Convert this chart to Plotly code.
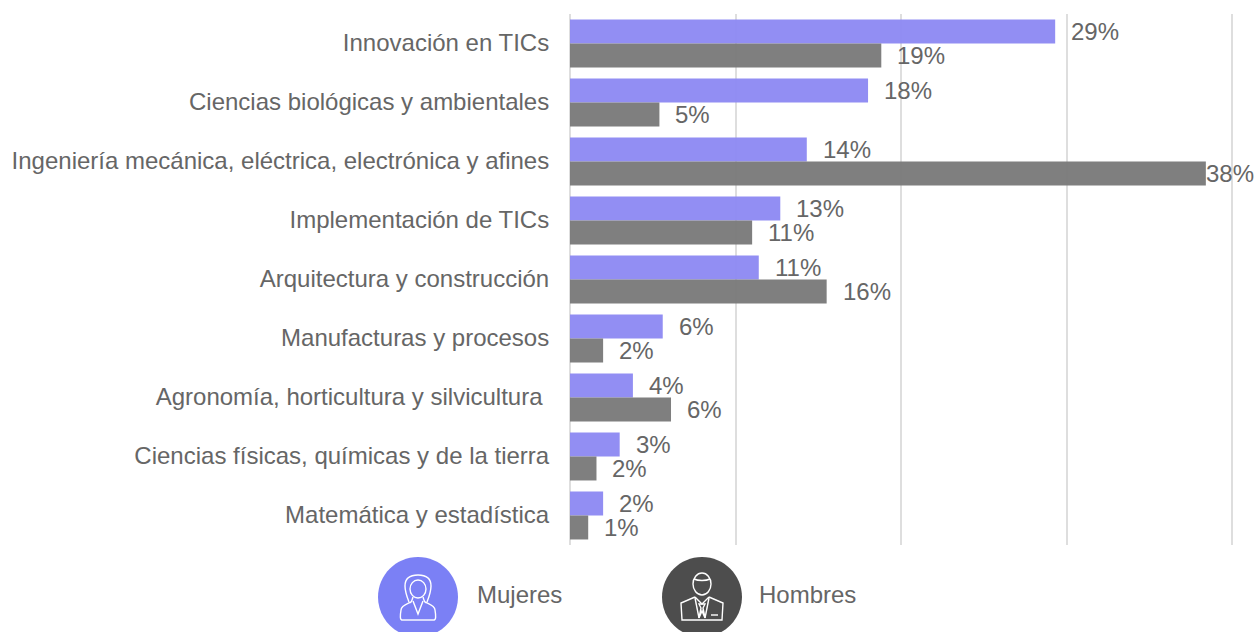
import plotly.graph_objects as go

categories = ["Innovación en TICs", "Ciencias biológicas y ambientales",
              "Ingeniería mecánica, eléctrica, electrónica y afines", "Implementación de TICs",
              "Arquitectura y construcción", "Manufacturas y procesos",
              "Agronomía, horticultura y silvicultura\u00a0", "Ciencias físicas, químicas y de la tierra",
              "Matemática y estadística"]
mujeres = [29.3, 18.0, 14.3, 12.7, 11.4, 5.6, 3.8, 3.0, 2.0]
hombres = [18.8, 5.4, 38.4, 11.0, 15.5, 2.0, 6.1, 1.6, 1.1]
mujeres_labels = ["29%", "18%", "14%", "13%", "11%", "6%", "4%", "3%", "2%"]
hombres_labels = ["19%", "5%", "38%", "11%", "16%", "2%", "6%", "2%", "1%"]

FONT = "Liberation Sans"
TXT = "#666666"
FS = 24
W, H = 1257, 632
ML, MR, MT, MB = 570, 23, 14, 87
PW, PH = W - ML - MR, H - MT - MB


def px(x):
    return (x - ML) / PW


def py(y):
    return (H - MB - y) / PH


fig = go.Figure()
fig.add_bar(y=categories, x=mujeres, orientation="h", name="Mujeres",
            marker=dict(color="rgba(142,137,243,0.96)", line_width=0), showlegend=False)
fig.add_bar(y=categories, x=hombres, orientation="h", name="Hombres",
            marker=dict(color="rgba(122,122,122,0.96)", line_width=0), showlegend=False)

annotations = []
for cat, vm, vh, lm, lh in zip(categories, mujeres, hombres, mujeres_labels, hombres_labels):
    annotations.append(dict(x=vm, y=cat, text=lm, xref="x", yref="y", xanchor="left", showarrow=False,
                            xshift=14, yshift=12, font=dict(family=FONT, size=FS, color=TXT)))
    annotations.append(dict(x=vh, y=cat, text=lh, xref="x", yref="y", xanchor="left", showarrow=False,
                            xshift=14 if lh != "38%" else -2, yshift=-12, font=dict(family=FONT, size=FS, color=TXT)))
annotations.append(dict(x=px(475), y=py(594), xref="paper", yref="paper", text="Mujeres", xanchor="left",
                        yanchor="middle", showarrow=False, font=dict(family=FONT, size=FS, color=TXT)))
annotations.append(dict(x=px(757), y=py(594), xref="paper", yref="paper", text="Hombres", xanchor="left",
                        yanchor="middle", showarrow=False, font=dict(family=FONT, size=FS, color=TXT)))

K = 0.5523


def ell(cx, cy, rx, ry):
    c = [(cx + rx, cy), (cx + rx, cy + K * ry), (cx + K * rx, cy + ry), (cx, cy + ry),
         (cx - K * rx, cy + ry), (cx - rx, cy + K * ry), (cx - rx, cy),
         (cx - rx, cy - K * ry), (cx - K * rx, cy - ry), (cx, cy - ry),
         (cx + K * rx, cy - ry), (cx + rx, cy - K * ry), (cx + rx, cy)]
    s = f"M{c[0][0]},{-c[0][1]}"
    for i in range(1, 13, 3):
        s += " C" + " ".join(f"{p[0]},{-p[1]}" for p in c[i:i + 3])
    return s + " Z"


def poly(pts, close=False):
    return "M" + " L".join(f"{x},{-y}" for x, y in pts) + (" Z" if close else "")


def curve(*pts):
    s = f"M{pts[0][0]},{-pts[0][1]}"
    for i in range(1, len(pts), 3):
        s += " C" + " ".join(f"{p[0]},{-p[1]}" for p in pts[i:i + 3])
    return s


def icon(cx, cy, paths, color):
    sx, sy = px(cx), py(cy)
    out = [dict(type="path", xref="paper", yref="paper", xsizemode="pixel", ysizemode="pixel",
                xanchor=sx, yanchor=sy, path=ell(0, 0, 40, 40), fillcolor=color, line_width=0, layer="above")]
    for p in paths:
        out.append(dict(type="path", xref="paper", yref="paper", xsizemode="pixel", ysizemode="pixel",
                        xanchor=sx, yanchor=sy, path=p, line=dict(color="white", width=1.4), layer="above"))
    return out


woman = [
    ell(0, -8, 8, 9),
    curve((-9, 5), (-11, 0), (-13, -5), (-13, -11), (-13, -19), (-7, -22), (0, -22),
          (7, -22), (13, -19), (13, -11), (13, -5), (11, 0), (9, 5)),
    curve((-5, 0), (-6, 3), (-6, 4), (-7, 5), (-11, 7), (-17, 9), (-17, 13)),
    poly([(-16, 23), (16, 23)]),
    curve((-16, 23), (-18, 23), (-18, 19), (-17, 13)),
    curve((16, 23), (18, 23), (18, 19), (17, 13)),
    curve((17, 13), (17, 9), (11, 7), (7, 5), (6, 4), (6, 3), (5, 0)),
    poly([(-5, 4), (0, 17), (5, 4)]),
]
man = [
    ell(0, -13, 9, 11),
    curve((-8, -18), (-4, -16), (4, -16), (8, -18)),
    poly([(-7, 0), (-21, 6), (-20, 23), (20, 23), (21, 6), (7, 0)]),
    poly([(-7, 0), (0, 7), (7, 0)]),
    poly([(-3, 7), (3, 7), (1, 11), (3, 21), (0, 14), (-3, 21), (-1, 11)], True),
    poly([(-7, 1), (-3, 21)]),
    poly([(7, 1), (3, 21)]),
    poly([(9, 18), (16, 18)]),
]
shapes = icon(418, 597, woman, "#7B80F5") + icon(702, 597, man, "#4D4D4D")

fig.update_layout(
    width=W, height=H, autosize=False, barmode="group", bargap=0.187, bargroupgap=0,
    margin=dict(l=ML, r=MR, t=MT, b=MB, autoexpand=False), paper_bgcolor="white", plot_bgcolor="white",
    font=dict(family=FONT, size=FS, color=TXT),
    xaxis=dict(range=[0, 40.1], dtick=10, showgrid=True, gridcolor="#DEDEDE", gridwidth=2, showticklabels=False,
               zeroline=True, zerolinecolor="#DEDEDE", zerolinewidth=2, showline=False, automargin=False,
               layer="below traces"),
    yaxis=dict(autorange="reversed", showgrid=False, showline=False, zeroline=False, ticks="outside",
               automargin=False, ticklen=15, tickcolor="rgba(0,0,0,0)", ticklabelshift=1,
               tickfont=dict(family=FONT, size=FS, color=TXT)),
    annotations=annotations, shapes=shapes,
)
fig.write_html("out.html", config=dict(displayModeBar=False),
               post_script="document.body.style.margin='0';document.body.style.overflow='hidden';")
